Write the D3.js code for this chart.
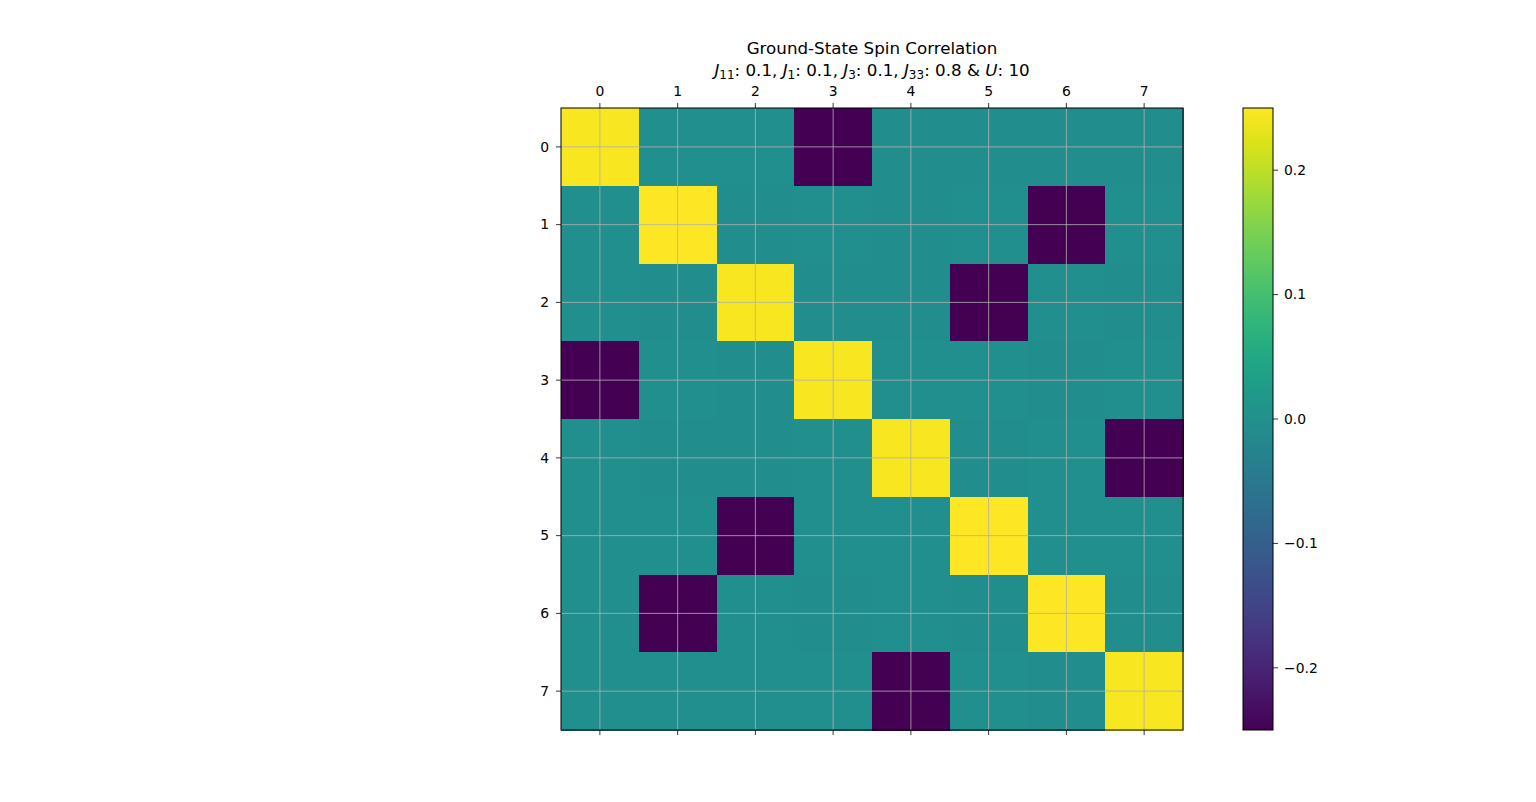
<!DOCTYPE html>
<html>
<head>
<meta charset="utf-8">
<script src="https://cdn.jsdelivr.net/npm/d3@7"></script>
<style>
  body { margin: 0; background: #fff; }
  text { font-family: "DejaVu Sans", sans-serif; fill: #000; }
</style>
</head>
<body>
<div id="chart"></div>
<script>
// sites on the lattice
const sites = [0, 1, 2, 3, 4, 5, 6, 7];

// ground-state spin correlation <S_i S_j>, row i, column j
const corr = [
  [ 0.245, -0.003, -0.002, -0.250, -0.004, -0.005, -0.004, -0.005],
  [-0.003,  0.250, -0.004, -0.002, -0.005, -0.003, -0.250, -0.002],
  [-0.002, -0.004,  0.245, -0.005, -0.004, -0.250, -0.002, -0.004],
  [-0.250, -0.002, -0.004,  0.245, -0.002, -0.003, -0.006, -0.003],
  [-0.003, -0.006, -0.004, -0.003,  0.245, -0.004, -0.002, -0.250],
  [-0.003, -0.002, -0.250, -0.002, -0.003,  0.250, -0.003, -0.002],
  [-0.002, -0.250, -0.002, -0.005, -0.002, -0.004,  0.250, -0.004],
  [-0.003, -0.002, -0.003, -0.003, -0.250, -0.002, -0.005,  0.245]
];

const cbarTicks = [-0.2, -0.1, 0.0, 0.1, 0.2];
const colorDomain = [-0.25, 0.25];

const W = 1536, H = 802;
const plot = { x: 561, y: 108, size: 622 };
const cbar = { x: 1243, y: 108, w: 30, h: 622 };

const svg = d3.select("#chart").append("svg")
  .attr("width", W).attr("height", H);

const color = d3.scaleSequential(d3.interpolateViridis).domain(colorDomain);

const x = d3.scaleBand().domain(sites).range([plot.x, plot.x + plot.size]).padding(0);
const y = d3.scaleBand().domain(sites).range([plot.y, plot.y + plot.size]).padding(0);

const cells = [];
corr.forEach((row, i) => row.forEach((v, j) => cells.push({ i, j, v })));

svg.append("g").selectAll("rect")
  .data(cells)
  .enter().append("rect")
  .attr("x", d => x(d.j))
  .attr("y", d => y(d.i))
  .attr("width", x.bandwidth() + 0.5)
  .attr("height", y.bandwidth() + 0.5)
  .attr("fill", d => color(d.v))
  .attr("shape-rendering", "crispEdges");

// grid lines
const grid = svg.append("g").attr("stroke", "#b0b0b0").attr("stroke-width", 0.8);
sites.forEach(s => {
  const cx = x(s) + x.bandwidth() / 2;
  const cy = y(s) + y.bandwidth() / 2;
  grid.append("line").attr("x1", cx).attr("x2", cx).attr("y1", plot.y).attr("y2", plot.y + plot.size);
  grid.append("line").attr("y1", cy).attr("y2", cy).attr("x1", plot.x).attr("x2", plot.x + plot.size);
});

// frame
svg.append("rect")
  .attr("x", plot.x).attr("y", plot.y)
  .attr("width", plot.size).attr("height", plot.size)
  .attr("fill", "none").attr("stroke", "#000").attr("stroke-width", 1);

// ticks: top labels, bottom marks, left labels
const tickG = svg.append("g").attr("stroke", "#000").attr("stroke-width", 0.8);
sites.forEach(s => {
  const cx = x(s) + x.bandwidth() / 2;
  const cy = y(s) + y.bandwidth() / 2;
  tickG.append("line").attr("x1", cx).attr("x2", cx).attr("y1", plot.y).attr("y2", plot.y - 5);
  tickG.append("line").attr("x1", cx).attr("x2", cx).attr("y1", plot.y + plot.size).attr("y2", plot.y + plot.size + 5);
  tickG.append("line").attr("x1", plot.x).attr("x2", plot.x - 5).attr("y1", cy).attr("y2", cy);

  svg.append("text").attr("x", cx).attr("y", plot.y - 12)
    .attr("text-anchor", "middle").style("font-size", "13.9px").text(s);
  svg.append("text").attr("x", plot.x - 12).attr("y", cy).attr("dy", "0.35em")
    .attr("text-anchor", "end").style("font-size", "13.9px").text(s);
});

// colorbar
const defs = svg.append("defs");
const grad = defs.append("linearGradient").attr("id", "viridis")
  .attr("x1", 0).attr("y1", 1).attr("x2", 0).attr("y2", 0);
d3.range(0, 1.0001, 0.05).forEach(t => {
  grad.append("stop").attr("offset", t).attr("stop-color", d3.interpolateViridis(t));
});
svg.append("rect")
  .attr("x", cbar.x).attr("y", cbar.y).attr("width", cbar.w).attr("height", cbar.h)
  .attr("fill", "url(#viridis)").attr("stroke", "#000").attr("stroke-width", 1);

const cy = d3.scaleLinear().domain(colorDomain).range([cbar.y + cbar.h, cbar.y]);
const fmt = v => (v < 0 ? "\u2212" : "") + Math.abs(v).toFixed(1);
cbarTicks.forEach(t => {
  svg.append("line")
    .attr("x1", cbar.x + cbar.w).attr("x2", cbar.x + cbar.w + 5)
    .attr("y1", cy(t)).attr("y2", cy(t))
    .attr("stroke", "#000").attr("stroke-width", 0.8);
  svg.append("text")
    .attr("x", cbar.x + cbar.w + 11).attr("y", cy(t)).attr("dy", "0.35em")
    .style("font-size", "13.9px").text(fmt(t));
});

// title
const titleX = plot.x + plot.size / 2;
svg.append("text").attr("x", titleX).attr("y", 54)
  .attr("text-anchor", "middle").style("font-size", "16.7px")
  .text("Ground-State Spin Correlation");

const t2 = svg.append("text").attr("x", titleX).attr("y", 76)
  .attr("text-anchor", "middle").style("font-size", "16.7px");
const parts = [
  ["J", "11", ": 0.1, "],
  ["J", "1", ": 0.1, "],
  ["J", "3", ": 0.1, "],
  ["J", "33", ": 0.8 & "],
  ["U", "", ": 10"]
];
parts.forEach(([sym, sub, rest]) => {
  t2.append("tspan").style("font-style", "italic").text(sym);
  if (sub) {
    t2.append("tspan").attr("dy", 3).style("font-size", "12px").text(sub);
    t2.append("tspan").attr("dy", -3).text(rest);
  } else {
    t2.append("tspan").text(rest);
  }
});
</script>
</body>
</html>
